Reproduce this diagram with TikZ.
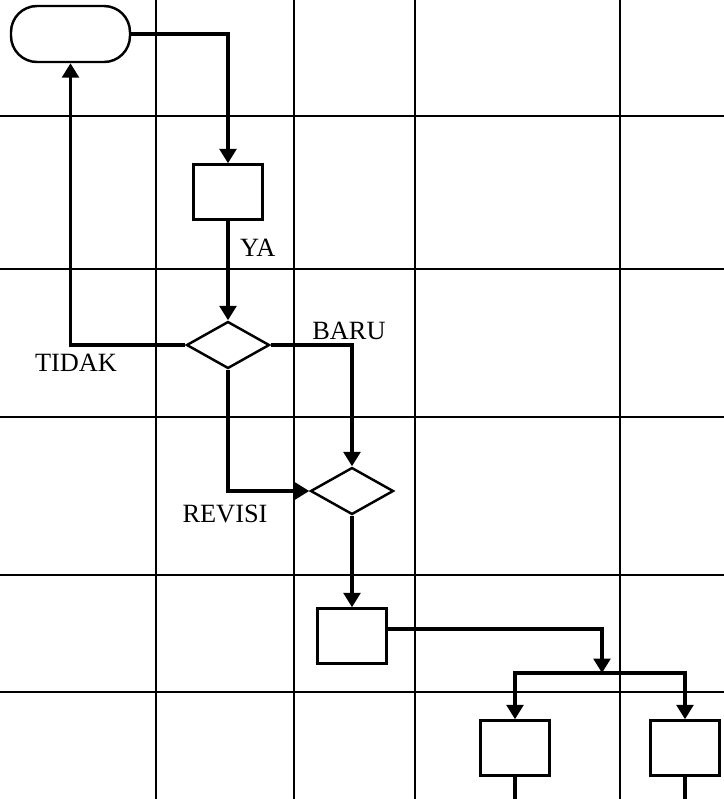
\documentclass[tikz,border=0pt]{standalone}
\usepackage{fontspec}
\setmainfont{Liberation Serif}
\usepackage{tikz}
\usetikzlibrary{arrows.meta, positioning, shapes.geometric}

\begin{document}
\begin{tikzpicture}[
    x=0.02cm, y=-0.02cm,
    gridline/.style={line width=1.2pt, black},
    terminal/.style={rectangle, draw, line width=1.4pt, fill=white, rounded corners=0.52cm, minimum width=2.38cm, minimum height=1.12cm, inner sep=0pt},
    process/.style={rectangle, draw, line width=1.4pt, fill=white, minimum width=1.38cm, minimum height=1.1cm, inner sep=0pt},
    decision/.style={diamond, draw, line width=1.4pt, fill=white, minimum width=1.66cm, minimum height=0.94cm, inner sep=0pt},
    flow/.style={line width=1.9pt},
    arrow/.style={flow, -{Triangle[length=8.2pt, width=9.5pt]}},
    lbl/.style={inner sep=0pt, font=\fontsize{15}{17}\selectfont}
]
\useasboundingbox (0,0) rectangle (724,799);
\foreach \gx in {156, 294, 415, 620}
    \draw[gridline] (\gx,0) -- (\gx,799);
\foreach \gy in {116, 269, 417, 575, 692}
    \draw[gridline] (0,\gy) -- (724,\gy);

\node[terminal] (start) at (70.5, 34) {};
\node[process] (check) at (228, 192) {};
\node[decision] (valid) at (228, 345) {};
\node[decision] (kind) at (352, 491) {};
\node[process] (prep) at (352, 636) {};
\node[process] (outa) at (515, 748) {};
\node[process] (outb) at (685, 748) {};
\coordinate (split) at (602, 673);
\coordinate (enda) at (515, 799);
\coordinate (endb) at (685, 799);

\draw[arrow] (start.east) -| (check.north);
\draw[arrow] (check.south) -- (valid.north) node[lbl, pos=0.27, right=6pt] {YA};
\draw[arrow] (valid.west) -| (start.south);
\node[lbl] (tidak) at (76, 363) {TIDAK};
\draw[arrow] (valid.east) -| (kind.north);
\node[lbl] (baru) at (349, 331) {BARU};
\draw[arrow] (valid.south) |- (kind.west);
\node[lbl] (revisi) at (225, 514) {REVISI};
\draw[arrow] (kind.south) -- (prep.north);
\draw[arrow] ([yshift=0.14cm]prep.east) -| (split);
\draw[arrow] (split) -| (outa.north);
\draw[arrow] (split) -| (outb.north);
\draw[flow] (outa.south) -- (enda);
\draw[flow] (outb.south) -- (endb);
\end{tikzpicture}
\end{document}
